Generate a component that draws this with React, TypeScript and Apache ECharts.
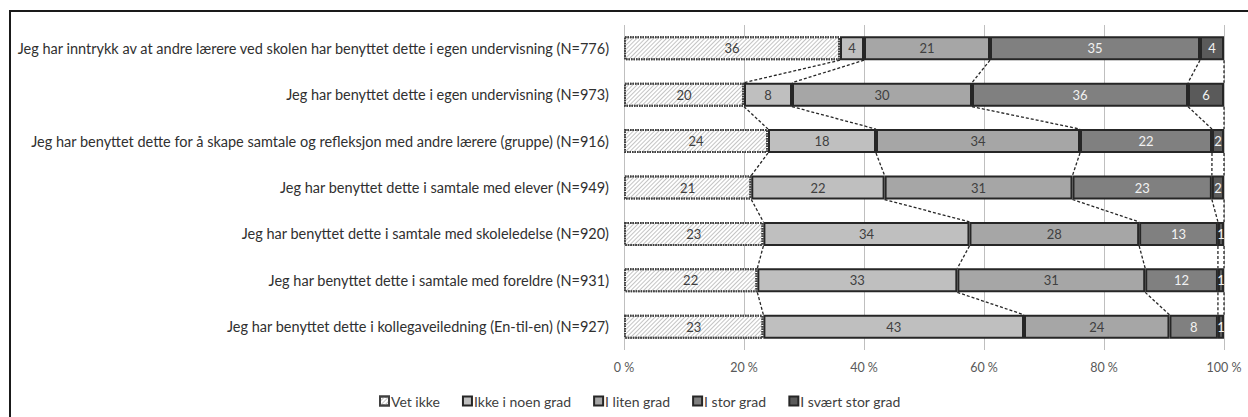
import React, { useEffect, useRef } from "react";
import * as echarts from "echarts";

const categories = [
  "Jeg har inntrykk av at andre lærere ved skolen har benyttet dette i egen undervisning (N=776)",
  "Jeg har benyttet dette i egen undervisning (N=973)",
  "Jeg har benyttet dette for å skape samtale og refleksjon med andre lærere (gruppe) (N=916)",
  "Jeg har benyttet dette i samtale med elever (N=949)",
  "Jeg har benyttet dette i samtale med skoleledelse (N=920)",
  "Jeg har benyttet dette i samtale med foreldre (N=931)",
  "Jeg har benyttet dette i kollegaveiledning (En-til-en) (N=927)",
];

const seriesNames = ["Vet ikke", "Ikke i noen grad", "I liten grad", "I stor grad", "I svært stor grad"];

const vetIkke = [36, 20, 24, 21, 23, 22, 23];
const ikkeINoenGrad = [4, 8, 18, 22, 34, 33, 43];
const iLitenGrad = [21, 30, 34, 31, 28, 31, 24];
const iStorGrad = [35, 36, 22, 23, 13, 12, 8];
const iSvaertStorGrad = [4, 6, 2, 2, 1, 1, 1];

const xTicks = [0, 20, 40, 60, 80, 100];

const FONT = "Lato";

export default function App() {
  const ref = useRef<HTMLDivElement>(null);

  useEffect(() => {
    if (!ref.current) return;
    const chart = echarts.init(ref.current, undefined, { renderer: "svg" });

    const raw = [vetIkke, ikkeINoenGrad, iLitenGrad, iStorGrad, iSvaertStorGrad];
    const totals = categories.map((_, i) => raw.reduce((s, arr) => s + arr[i], 0));
    const pct = raw.map((arr) => arr.map((v, i) => (v / totals[i]) * 100));
    const cum: number[][] = [];
    pct.forEach((arr, k) => {
      cum.push(arr.map((v, i) => v + (k > 0 ? cum[k - 1][i] : 0)));
    });

    const connectors: number[][] = [];
    for (let i = 0; i < categories.length - 1; i++) {
      for (let k = 0; k < raw.length; k++) {
        connectors.push([cum[k][i], i, cum[k][i + 1]]);
      }
    }

    const fills = ["#ffffff", "#bfbfbf", "#a6a6a6", "#808080", "#5a5a5a"];
    const labelColors = ["#404040", "#404040", "#404040", "#f2f2f2", "#f2f2f2"];

    const barSeries = raw.map((arr, k) => ({
      name: seriesNames[k],
      type: "bar",
      stack: "total",
      barWidth: 24,
      data: pct[k],
      z: 3,
      itemStyle:
        k === 0
          ? {
              color: "#ffffff",
              borderColor: "#404040",
              borderWidth: 2,
              borderType: [1.5, 1],
              decal: {
                symbol: "rect",
                symbolSize: 1,
                dashArrayX: [1, 0],
                dashArrayY: [1, 2],
                rotation: -Math.PI / 4,
                color: "#c4c4c4",
              },
            }
          : { color: fills[k], borderColor: "#262626", borderWidth: 2 },
      label: {
        show: true,
        position: "inside",
        fontSize: 13,
        fontFamily: FONT,
        color: labelColors[k],
        formatter: (p: any) => String(arr[p.dataIndex]),
      },
      emphasis: { disabled: true },
    }));

    chart.setOption({
      animation: false,
      textStyle: { fontFamily: FONT },
      grid: { left: 624, right: 24, top: 25, bottom: 67, containLabel: false },
      graphic: [
        {
          type: "rect",
          shape: { x: 10, y: 11, width: 1400, height: 600 },
          style: { fill: "none", stroke: "#1a1a1a", lineWidth: 2 },
          silent: true,
        },
      ],
      legend: {
        data: seriesNames,
        left: 374,
        top: 389,
        icon: "rect",
        itemWidth: 9,
        itemHeight: 9,
        itemGap: 22,
        textStyle: { fontSize: 14, color: "#404040", fontFamily: FONT, padding: [0, 0, 0, -3] },
      },
      xAxis: {
        type: "value",
        min: 0,
        max: 100,
        interval: 20,
        axisLine: { show: false },
        axisTick: { show: false },
        splitLine: { show: true, lineStyle: { color: "#bfbfbf", width: 1 } },
        axisLabel: {
          formatter: (v: number) => (xTicks.includes(v) ? `${v} %` : ""),
          fontSize: 12.5,
          color: "#595959",
          margin: 11,
          fontFamily: FONT,
        },
      },
      yAxis: {
        type: "category",
        data: categories,
        inverse: true,
        axisLine: { show: false },
        axisTick: { show: false },
        splitLine: { show: false },
        axisLabel: { margin: 15, fontSize: 14.5, color: "#303030", fontFamily: FONT },
      },
      series: [
        ...barSeries,
        {
          name: "connectors",
          type: "custom",
          z: 2,
          silent: true,
          encode: { x: [0, 2], y: 1 },
          data: connectors,
          renderItem: (params: any, api: any) => {
            const x1 = api.value(0);
            const row = api.value(1);
            const x2 = api.value(2);
            const p1 = api.coord([x1, row]);
            const p2 = api.coord([x2, row + 1]);
            const half = 12;
            return {
              type: "line",
              shape: { x1: p1[0], y1: p1[1] + half, x2: p2[0], y2: p2[1] - half },
              style: { stroke: "#262626", lineWidth: 1.3, lineDash: [3, 2] },
            };
          },
        },
      ],
    });

    return () => chart.dispose();
  }, []);

  return (
    <div
      ref={ref}
      style={{ position: "fixed", left: 0, top: 0, width: 1248, height: 417, background: "#fff" }}
    />
  );
}
